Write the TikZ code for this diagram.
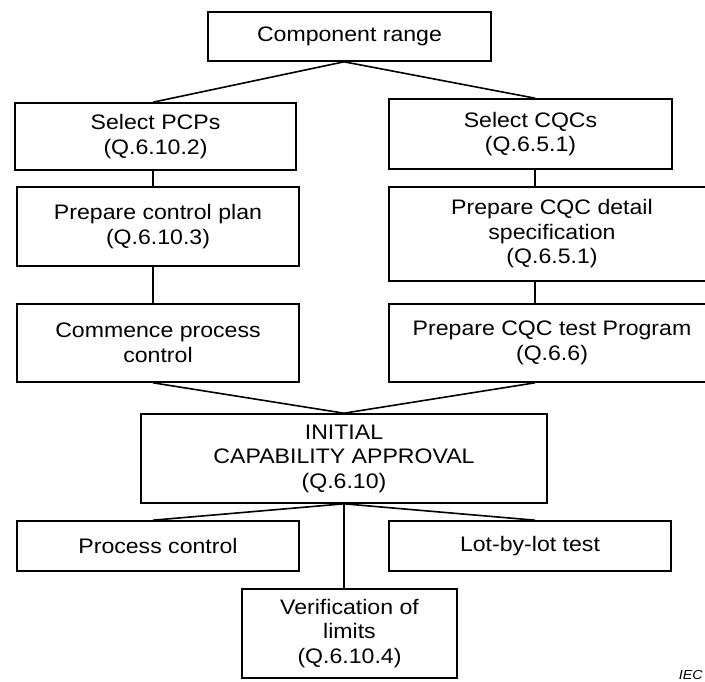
\documentclass[tikz,border=0pt]{standalone}
\usepackage{fontspec}
\setmainfont{Liberation Sans}[FakeStretch=1.1]
\begin{document}
\begin{tikzpicture}[x=1pt,y=-1pt,
  box/.style={draw, line width=1.6pt, inner sep=0pt, align=center,
    font=\fontsize{21pt}{24.5pt}\selectfont},
  link/.style={line width=1.6pt}]
\useasboundingbox (0,0) rectangle (705,682);
\node[box, minimum width=283pt, minimum height=49pt] (cr) at (349.5,36.5) {Component range};
\node[box, minimum width=281pt, minimum height=67pt] (pcp) at (155.5,136.5) {Select PCPs\\(Q.6.10.2)};
\node[box, minimum width=283pt, minimum height=70pt] (cqc) at (530.5,134) {Select CQCs\\(Q.6.5.1)};
\node[box, minimum width=282pt, minimum height=79pt] (plan) at (158,226.5) {Prepare control plan\\(Q.6.10.3)};
\node[box, minimum width=326pt, minimum height=94pt] (detail) at (552,234) {Prepare CQC detail\\specification\\(Q.6.5.1)};
\node[box, minimum width=282pt, minimum height=78pt] (comm) at (158,343) {Commence process\\control};
\node[box, minimum width=326pt, minimum height=78pt] (prog) at (552,343) {Prepare CQC test Program\\(Q.6.6)};
\node[box, minimum width=406pt, minimum height=89pt] (ica) at (344,458.5) {INITIAL\\CAPABILITY APPROVAL\\(Q.6.10)};
\node[box, minimum width=282pt, minimum height=50pt] (pc) at (158,546) {Process control};
\node[box, minimum width=282pt, minimum height=50pt] (lot) at (530,546) {Lot-by-lot test};
\node[box, minimum width=215pt, minimum height=89pt] (ver) at (349.5,633.5) {Verification of\\limits\\(Q.6.10.4)};
\node[anchor=south east, inner sep=0pt, font=\fontsize{13pt}{13pt}\selectfont\itshape] (iec) at (703,680) {IEC};
\coordinate (lx) at (153,0);
\coordinate (rx) at (535,0);
\draw[link] (cr.south -| ica.south) -- (pcp.north -| lx);
\draw[link] (cr.south -| ica.south) -- (cqc.north -| rx);
\draw[link] (pcp.south -| lx) -- (plan.north -| lx);
\draw[link] (plan.south -| lx) -- (comm.north -| lx);
\draw[link] (cqc.south -| rx) -- (detail.north -| rx);
\draw[link] (detail.south -| rx) -- (prog.north -| rx);
\draw[link] (comm.south -| lx) -- (ica.north);
\draw[link] (prog.south -| rx) -- (ica.north);
\draw[link] (ica.south) -- (pc.north -| lx);
\draw[link] (ica.south) -- (lot.north -| rx);
\draw[link] (ica.south) -- (ver.north -| ica.south);
\end{tikzpicture}
\end{document}
